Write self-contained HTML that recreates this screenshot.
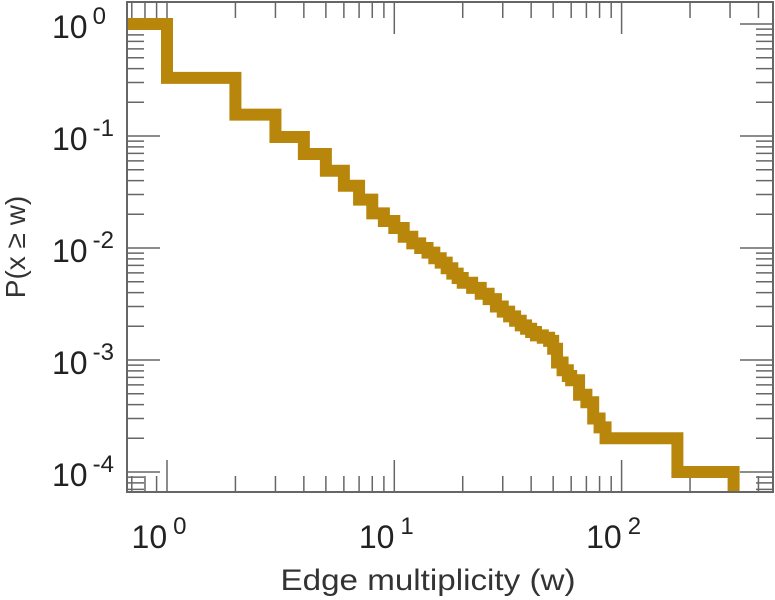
<!DOCTYPE html>
<html><head><meta charset="utf-8"><style>
html,body{margin:0;padding:0;background:#fff;}
svg{display:block;font-family:"Liberation Sans",sans-serif;}
</style></head><body>
<svg id="chart" width="775" height="600" viewBox="0 0 775 600" xmlns="http://www.w3.org/2000/svg">
<defs><clipPath id="clip"><rect x="127" y="2" width="646" height="490"/></clipPath></defs>
<g id="ticks"></g>
<g id="series" clip-path="url(#clip)"></g>
<rect x="127" y="2" width="646" height="490" fill="none" stroke="#666" stroke-width="2"/>
<g id="labels"></g>
<text x="428" y="590" font-size="30" fill="#333" text-anchor="middle" textLength="295" lengthAdjust="spacingAndGlyphs">Edge multiplicity (w)</text>
<text transform="translate(25,247) rotate(-90)" font-size="28" fill="#333" text-anchor="middle">P(x ≥ w)</text>
</svg>
<script>
const wBreaks = [0.5,1,2,3,4,5,6,7,8,9,10,11,12,13,14,15,16,17,18,19,20,22,24,26,28,30,32,34,36,38,40,42,45,48,50,52,55,58,60,65,70,75,80,85,176,311];
const pValues = [1,0.33,0.155,0.098,0.069,0.049,0.036,0.027,0.0204,0.0174,0.0151,0.0126,0.011,0.01,0.0091,0.0081,0.0074,0.0066,0.0059,0.0054,0.0049,0.0044,0.0039,0.0035,0.003,0.0027,0.00245,0.00224,0.00204,0.0019,0.00178,0.00166,0.00158,0.00148,0.00126,0.00095,0.00081,0.00072,0.00066,0.00049,0.00042,0.0003,0.00025,0.0002,0.0001,0.00001];
const xTickLabels = ["0","1","2"];
const yTickLabels = ["0","-1","-2","-3","-4"];
const NS="http://www.w3.org/2000/svg";
const X0=167, XD=227.3, Y0=24, YD=112, L=127, R=773, T=2, B=492;
const xs = w => X0 + XD*Math.log10(w);
const ys = p => Y0 - YD*Math.log10(p);
function mk(tag, attrs, parent){const e=document.createElementNS(NS,tag);for(const k in attrs)e.setAttribute(k,attrs[k]);parent.appendChild(e);return e;}
let d = "M"+xs(wBreaks[0])+","+ys(pValues[0]);
for(let i=1;i<wBreaks.length;i++){
  d += " L"+xs(wBreaks[i])+","+ys(pValues[i-1])+" L"+xs(wBreaks[i])+","+ys(pValues[i]);
}
const path = mk("path",{d:d,fill:"none",stroke:"#b8860b","stroke-width":12,"stroke-linejoin":"miter"},document.getElementById("series"));


const tg=document.getElementById("ticks");
for(let e=-1;e<=2;e++){for(let m=1;m<=9;m++){
  const x=xs(m*Math.pow(10,e)); if(x<L||x>R) continue;
  const len = m===1?32:16;
  const t1=mk("line",{x1:x,x2:x,y1:B,y2:B-len,stroke:"#666","stroke-width":1.5},tg);
  
  
  const t2=mk("line",{x1:x,x2:x,y1:T,y2:T+(m===1?32:16),stroke:"#666","stroke-width":1.5},tg);
  
  
}}
for(let e=-5;e<=0;e++){for(let m=1;m<=9;m++){
  const y=ys(m*Math.pow(10,e)); if(y<T||y>B) continue;
  const len = m===1?33:17;
  const t1=mk("line",{x1:L,x2:L+len,y1:y,y2:y,stroke:"#666","stroke-width":1.5},tg);
  
  
  const t2=mk("line",{x1:R,x2:R-len,y1:y,y2:y,stroke:"#666","stroke-width":1.5},tg);
  
  
}}
const lg=document.getElementById("labels");
xTickLabels.forEach((s,i)=>{
  const x=xs(Math.pow(10,+s));
  const t=mk("text",{x:x-8,y:548,"font-size":32,fill:"#222","text-anchor":"middle"},lg);
  
  
  t.textContent="10";
  const sp=mk("tspan",{dx:6,dy:-14,"font-size":24},t); sp.textContent=s;
});
yTickLabels.forEach((s,i)=>{
  const y=ys(Math.pow(10,+s));
  const t=mk("text",{x:52,y:y+14,"font-size":32,fill:"#222"},lg);
  
  
  t.textContent="10";
  const sp=mk("tspan",{dx:5,dy:-14,"font-size":24},t); sp.textContent=s;
});
</script>
</body></html>
